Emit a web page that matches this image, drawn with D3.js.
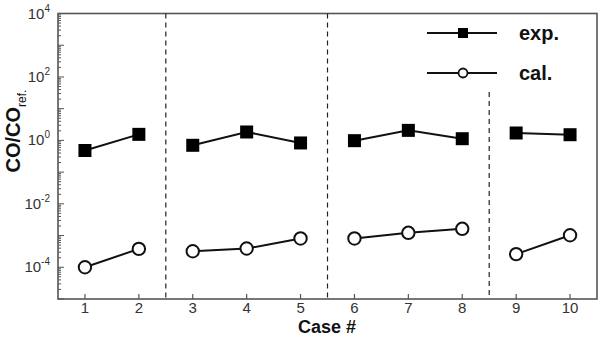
<!DOCTYPE html>
<html><head><meta charset="utf-8">
<script src="https://cdn.jsdelivr.net/npm/d3@7"></script>
<style>body{margin:0;background:#fff}svg{display:block}</style>
</head><body>
<svg id="c" width="601" height="338"></svg>
<script>
const cases = [1,2,3,4,5,6,7,8,9,10];
const groups = [[1,2],[3,4,5],[6,7,8],[9,10]];
const separators = [2.5,5.5,8.5];
const expValues = [0.48,1.55,0.70,1.84,0.83,0.98,2.07,1.13,1.71,1.51];
const calValues = [1.0e-4,3.8e-4,3.2e-4,3.9e-4,8.1e-4,8.1e-4,1.22e-3,1.63e-3,2.6e-4,1.02e-3];
const yTickExps = [-4,-2,0,2,4];
const seriesNames = ["exp.","cal."];

const svg = d3.select("#c");
const L=58, R=597, T=13.5, B=299;
const x = d3.scaleLinear().domain([0.5,10.5]).range([L,R]);
const y = d3.scaleLog().domain([1e-5,1e4]).range([B,T]);
const frame="#555";
const font="Liberation Sans, Arial, sans-serif";

const g = svg.append("g");
for(let e=-5;e<4;e++){
  for(let m=1;m<10;m++){
    const v=m*Math.pow(10,e);
    const len = m===1?6:3;
    g.append("line").attr("x1",L).attr("x2",L+len).attr("y1",y(v)).attr("y2",y(v)).attr("stroke",frame).attr("stroke-width",1);
  }
}
cases.forEach(c=>{
  g.append("line").attr("x1",x(c)).attr("x2",x(c)).attr("y1",B).attr("y2",B-5).attr("stroke",frame).attr("stroke-width",1.2);
  g.append("text").attr("x",x(c)).attr("y",313).attr("text-anchor","middle")
   .attr("font-family",font).attr("font-size",15).attr("fill","#333").text(c);
});
yTickExps.forEach(e=>{
  const t=g.append("text").attr("x",L-8).attr("y",y(Math.pow(10,e))+5).attr("text-anchor","end")
   .attr("font-family",font).attr("font-size",15).attr("fill","#333");
  t.append("tspan").text("10");
  t.append("tspan").attr("font-size",10).attr("dy",-7).text(e);
});
svg.append("rect").attr("x",L).attr("y",T).attr("width",R-L).attr("height",B-T)
  .attr("fill","none").attr("stroke",frame).attr("stroke-width",1.6);

separators.forEach((s,i)=>{
  svg.append("line").attr("x1",x(s)).attr("x2",x(s)).attr("y1",i===2?92:T).attr("y2",B)
   .attr("stroke","#222").attr("stroke-width",1.2).attr("stroke-dasharray","5,4");
});

const line = d3.line().x(d=>x(d[0])).y(d=>y(d[1]));
function drawSeries(vals, type){
  groups.forEach(gr=>{
    const pts = gr.map(c=>[c, vals[c-1]]);
    svg.append("path").attr("d",line(pts)).attr("fill","none").attr("stroke","#111").attr("stroke-width",2);
  });
  cases.forEach(c=>{
    const cx=x(c), cy=y(vals[c-1]);
    if(type==="sq") svg.append("rect").attr("x",cx-6.5).attr("y",cy-6.5).attr("width",13).attr("height",13).attr("fill","#000");
    else svg.append("circle").attr("cx",cx).attr("cy",cy).attr("r",6.2).attr("fill","#fff").attr("stroke","#111").attr("stroke-width",2);
  });
}
drawSeries(expValues,"sq");
drawSeries(calValues,"ci");

const lg=[{y:33,t:"sq"},{y:73,t:"ci"}];
lg.forEach((d,i)=>{
  svg.append("line").attr("x1",427).attr("x2",497).attr("y1",d.y).attr("y2",d.y).attr("stroke","#111").attr("stroke-width",2);
  if(d.t==="sq") svg.append("rect").attr("x",463-5).attr("y",d.y-5).attr("width",10).attr("height",10).attr("fill","#000");
  else svg.append("circle").attr("cx",463).attr("cy",d.y).attr("r",4.5).attr("fill","#fff").attr("stroke","#111").attr("stroke-width",1.8);
  svg.append("text").attr("x",519).attr("y",d.y+7).attr("font-family",font)
   .attr("font-weight","bold").attr("font-size",20).attr("fill","#111").text(seriesNames[i]);
});

svg.append("text").attr("x",327).attr("y",333).attr("text-anchor","middle")
  .attr("font-family",font).attr("font-weight","bold").attr("font-size",18).attr("fill","#111").text("Case #");
const yl=svg.append("text").attr("transform","translate(20,131) rotate(-90)").attr("text-anchor","middle")
  .attr("font-family",font).attr("font-weight","bold").attr("font-size",20).attr("fill","#111");
yl.append("tspan").text("CO/CO");
yl.append("tspan").attr("font-size",12).attr("font-weight","normal").attr("dy",6).text("ref.");
</script>
</body></html>
